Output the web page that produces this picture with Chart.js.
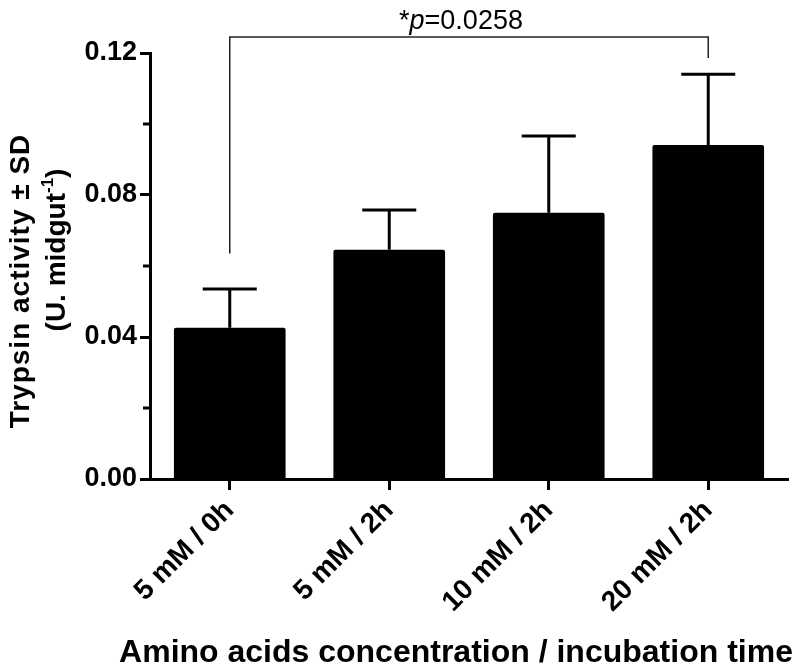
<!DOCTYPE html>
<html>
<head>
<meta charset="utf-8">
<script src="https://cdn.jsdelivr.net/npm/chart.js@4.4.0/dist/chart.umd.min.js"></script>
<style>
    body { margin: 0; background: #fff; }
    #contenedor { width: 796px; height: 671px; }
</style>
</head>
<body>
<div id="contenedor"><canvas id="grafico-tripsina"></canvas></div>
<script>
// Datos
const categorias = ['5 mM / 0h', '5 mM / 2h', '10 mM / 2h', '20 mM / 2h'];
const actividad = [0.0426, 0.0646, 0.0750, 0.0941];
const desvio = [0.0109, 0.0112, 0.0216, 0.0199];
const ticksMayores = [0, 0.04, 0.08, 0.12];
const ticksMenores = [0.02, 0.06, 0.10];
// Corchete de significancia: categorías comparadas y niveles (pata izq, línea, pata der)
const corcheteCategorias = [0, 3];
const corcheteNiveles = [0.0635, 0.1245, 0.1186];
const valorP = '0.0258';
const tituloX = 'Amino acids concentration / incubation time';

const FUENTE = '"Liberation Sans", Arial, sans-serif';

function esMayor(v) {
    return ticksMayores.some(t => Math.abs(t - v) < 1e-9);
}

// Plugin para barras de error, ticks menores, corchete y títulos de ejes
const anotaciones = {
    id: 'anotaciones',
    afterDatasetsDraw(chart) {
        const ctx = chart.ctx;
        const y = chart.scales.y;
        const meta = chart.getDatasetMeta(0);
        ctx.save();
        ctx.strokeStyle = '#000';
        ctx.lineWidth = 3;
        meta.data.forEach((barra, i) => {
            const yTop = y.getPixelForValue(actividad[i] + desvio[i]);
            ctx.beginPath();
            ctx.moveTo(barra.x, barra.y);
            ctx.lineTo(barra.x, yTop);
            ctx.moveTo(barra.x - 27, yTop);
            ctx.lineTo(barra.x + 27, yTop);
            ctx.stroke();
        });
        ctx.restore();
    },
    afterDraw(chart) {
        const ctx = chart.ctx;
        const x = chart.scales.x;
        const y = chart.scales.y;
        ctx.save();

        // ticks menores del eje Y
        ctx.strokeStyle = '#000';
        ctx.lineWidth = 3;
        ticksMenores.forEach(v => {
            const py = y.getPixelForValue(v);
            ctx.beginPath();
            ctx.moveTo(y.right - 7, py);
            ctx.lineTo(y.right, py);
            ctx.stroke();
        });

        // corchete de significancia
        const x1 = x.getPixelForValue(corcheteCategorias[0]);
        const x2 = x.getPixelForValue(corcheteCategorias[1]);
        const yIzq = y.getPixelForValue(corcheteNiveles[0]);
        const yLinea = y.getPixelForValue(corcheteNiveles[1]);
        const yDer = y.getPixelForValue(corcheteNiveles[2]);
        ctx.strokeStyle = '#222';
        ctx.lineWidth = 1.5;
        ctx.beginPath();
        ctx.moveTo(x1, yIzq);
        ctx.lineTo(x1, yLinea);
        ctx.lineTo(x2, yLinea);
        ctx.lineTo(x2, yDer);
        ctx.stroke();

        // texto *p=0.0258
        const fNormal = '27px ' + FUENTE;
        const fItalica = 'italic 27px ' + FUENTE;
        ctx.fillStyle = '#000';
        ctx.textBaseline = 'alphabetic';
        ctx.textAlign = 'left';
        ctx.font = fNormal;
        const wAst = ctx.measureText('*').width;
        const wResto = ctx.measureText('=' + valorP).width;
        ctx.font = fItalica;
        const wP = ctx.measureText('p').width;
        let tx = (x1 + x2) / 2 - 8 - (wAst + wP + wResto) / 2;
        const ty = yLinea - 8;
        ctx.font = fNormal;
        ctx.fillText('*', tx, ty);
        tx += wAst;
        ctx.font = fItalica;
        ctx.fillText('p', tx, ty);
        tx += wP;
        ctx.font = fNormal;
        ctx.fillText('=' + valorP, tx, ty);

        // título del eje X
        ctx.font = 'bold 32px ' + FUENTE;
        ctx.textAlign = 'center';
        ctx.textBaseline = 'alphabetic';
        ctx.fillText(tituloX, 456, 662);

        // título del eje Y (dos líneas, con superíndice)
        ctx.save();
        ctx.translate(21, 281);
        ctx.rotate(-Math.PI / 2);
        ctx.font = 'bold 28px ' + FUENTE;
        ctx.letterSpacing = '1px';
        ctx.textAlign = 'center';
        ctx.textBaseline = 'middle';
        ctx.fillText('Trypsin activity \u00b1 SD', 0, 0);
        ctx.restore();

        ctx.save();
        ctx.translate(57, 250);
        ctx.rotate(-Math.PI / 2);
        ctx.textBaseline = 'middle';
        ctx.textAlign = 'left';
        const fB = 'bold 28px ' + FUENTE;
        const fSup = 'bold 17px ' + FUENTE;
        ctx.font = fB;
        const wa = ctx.measureText('(U. midgut').width;
        const wc = ctx.measureText(')').width;
        ctx.font = fSup;
        const wb = ctx.measureText('-1').width;
        let sx = -(wa + wb + wc) / 2;
        ctx.font = fB;
        ctx.fillText('(U. midgut', sx, 0);
        sx += wa;
        ctx.font = fSup;
        ctx.fillText('-1', sx, -9);
        sx += wb;
        ctx.font = fB;
        ctx.fillText(')', sx, 0);
        ctx.restore();

        ctx.restore();
    }
};

const ctx1 = document.getElementById('grafico-tripsina').getContext('2d');
const chart1 = new Chart(ctx1, {
    type: 'bar',
    data: {
        labels: categorias,
        datasets: [{
            data: actividad,
            backgroundColor: '#000',
            borderWidth: 0,
            borderRadius: 2,
            borderSkipped: 'bottom',
            barPercentage: 0.7,
            categoryPercentage: 1.0
        }]
    },
    options: {
        responsive: true,
        maintainAspectRatio: false,
        animation: false,
        layout: { padding: { top: 53, right: 8, left: 0, bottom: 0 } },
        plugins: {
            legend: { display: false },
            tooltip: { enabled: false }
        },
        scales: {
            x: {
                afterFit: scale => { scale.height = 192; },
                grid: {
                    offset: false,
                    drawOnChartArea: false,
                    tickLength: 11,
                    tickWidth: 3,
                    tickColor: '#000'
                },
                border: { color: '#000', width: 3 },
                ticks: {
                    color: '#000',
                    font: { family: FUENTE, size: 28, weight: 'bold' },
                    minRotation: 45,
                    maxRotation: 45,
                    autoSkip: false,
                    padding: 4
                }
            },
            y: {
                min: 0,
                max: 0.12,
                afterFit: scale => { scale.width = 150; },
                grid: {
                    drawOnChartArea: false,
                    tickLength: 10,
                    tickWidth: 3,
                    tickColor: c => esMayor(c.tick.value) ? '#000' : 'rgba(0,0,0,0)'
                },
                border: { color: '#000', width: 3 },
                ticks: {
                    stepSize: 0.02,
                    color: '#000',
                    padding: 3,
                    font: { family: FUENTE, size: 27, weight: 'bold' },
                    callback: v => esMayor(v) ? v.toFixed(2) : ''
                }
            }
        }
    },
    plugins: [anotaciones]
});
</script>
</body>
</html>
